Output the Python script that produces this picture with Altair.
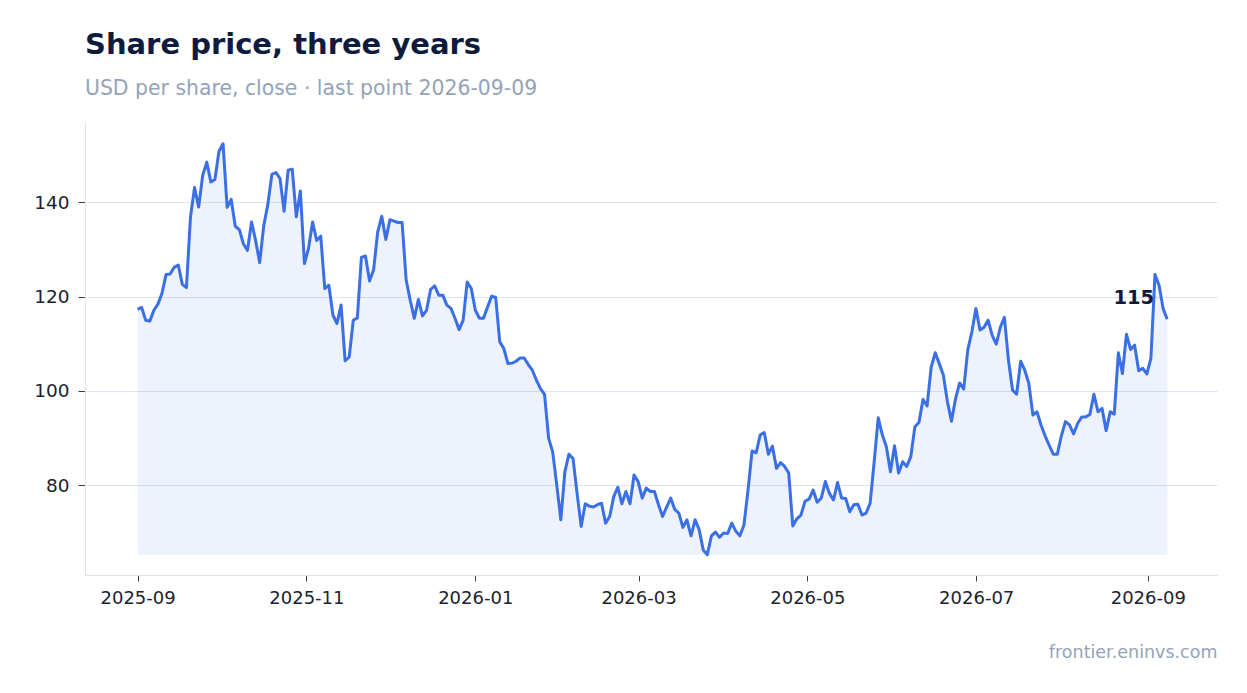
import pandas as pd
import altair as alt

# Texts
title    = "Share price, three years"
subtitle = "USD per share, close · last point 2026-09-09"
source   = "frontier.eninvs.com"

# First and last close of the series, points are evenly spaced in between
first_day = "2025-09-01"
last_day  = "2026-09-08"

# Closing prices, USD per share
close = [
    117.3, 117.7, 115.0, 114.8, 117.1, 118.4, 120.7, 124.7, 124.8, 126.2, 126.7, 122.6, 121.9, 136.9, 143.1, 139.0,
    145.7, 148.5, 144.3, 144.8, 150.8, 152.4, 138.9, 140.6, 134.9, 134.2, 131.2, 129.8, 135.8, 131.9, 127.2,
    135.0, 139.5, 145.9, 146.3, 145.0, 138.1, 146.8, 147.0, 136.9, 142.4, 127.0, 130.2, 135.8, 131.9, 132.8, 121.7,
    122.4, 116.1, 114.3, 118.2, 106.4, 107.2, 115.0, 115.5, 128.3, 128.6, 123.3, 125.7, 133.7, 137.0, 132.1, 136.3,
    136.0, 135.7, 135.7, 123.5, 119.2, 115.4, 119.4, 115.9, 117.1, 121.5, 122.3, 120.3, 120.3, 118.2, 117.5, 115.4,
    113.0, 115.0, 123.1, 121.7, 117.1, 115.4, 115.4, 117.8, 120.1, 119.8, 110.4, 109.0, 105.8, 105.9, 106.3, 107.0, 107.0,
    105.6, 104.4, 102.3, 100.5, 99.3, 90.0, 87.1, 80.1, 72.7, 82.9, 86.6, 85.7, 78.3, 71.3, 76.1, 75.6,
    75.4, 75.9, 76.2, 72.0, 73.4, 77.6, 79.6, 76.1, 78.7, 76.1, 82.2, 80.8, 77.3, 79.4, 78.7, 78.7,
    75.9, 73.4, 75.4, 77.3, 74.9, 74.1, 71.1, 72.7, 69.3, 72.7, 70.6, 66.3, 65.3, 69.3, 70.1, 69.0,
    69.9, 69.8, 72.0, 70.3, 69.3, 71.6, 79.0, 87.3, 86.9, 90.7, 91.2, 86.6, 88.3, 83.6, 84.8, 84.0, 82.6,
    71.4, 72.9, 73.7, 76.6, 77.1, 79.0, 76.4, 77.3, 80.8, 78.3, 76.9, 80.6, 77.3, 77.2, 74.4,
    75.9, 76.0, 73.7, 74.1, 76.2, 85.0, 94.3, 90.7, 88.2, 82.9, 88.4, 82.6, 85.0, 84.0, 86.1,
    92.4, 93.3, 98.2, 96.8, 105.0, 108.1, 105.8, 103.4, 97.7, 93.6, 98.4, 101.7, 100.4, 108.7, 112.5, 117.5,
    112.9, 113.5, 115.0, 111.8, 109.9, 113.5, 115.6, 106.5, 100.2, 99.3, 106.3, 104.4, 101.6, 94.9, 95.6,
    92.8, 90.5, 88.5, 86.6, 86.6, 90.5, 93.5, 92.8, 90.9, 93.1, 94.5, 94.5, 95.0, 99.3, 95.6, 96.3,
    91.6, 95.6, 95.1, 108.1, 103.7, 112.0, 108.8, 109.7, 104.3, 104.8, 103.6, 106.9, 124.7, 122.4, 117.5, 115.2,
]

# Axis ranges
y_domain   = [61, 157]
y_ticks    = [80, 100, 120, 140]
x_domain   = [alt.DateTime(year=2025, month=8, date=13), alt.DateTime(year=2026, month=9, date=26)]

blue  = "#3b6fe6"
ink   = "#0f1b3d"
muted = "#94a3b8"
font  = "DejaVu Sans"

df        = pd.DataFrame({"date": pd.date_range(first_day, last_day, periods=len(close)), "close": close})
floor     = min(close)
last_row  = df.tail(1)

x = alt.X("date:T",
          scale=alt.Scale(domain=x_domain),
          axis=alt.Axis(title=source, format="%Y-%m", tickCount={"interval": "month", "step": 2}, grid=False,
                        domainColor="#dfe4ec", tickColor="#3a3f4b", tickSize=6, labelPadding=8,
                        labelFontSize=18, labelColor="#1c2230",
                        titleAnchor="end", titleAlign="right", titleColor=muted, titleFontSize=17.5,
                        titleFontWeight="normal", titlePadding=36))
y = alt.Y("close:Q",
          scale=alt.Scale(domain=y_domain, nice=False, zero=False),
          axis=alt.Axis(title="", values=y_ticks, gridColor="#dfe5ee", domainColor="#dfe4ec",
                        tickColor="#3a3f4b", tickSize=7, labelPadding=9, labelFontSize=18.5, labelColor="#1c2230"))

area  = alt.Chart(df).mark_area(color=blue, opacity=0.09).encode(x=x, y=y, y2=alt.datum(floor))
line  = alt.Chart(df).mark_line(color=blue, strokeWidth=3, strokeJoin="round").encode(x=x, y=y)
label = alt.Chart(last_row).mark_text(align="right", baseline="middle", dx=-13, dy=-21, fontSize=19.5,
                                      fontWeight="bold", color=ink, font=font).encode(
    x=x, y=y, text=alt.Text("close:Q", format=".0f"))

chart = alt.layer(area, line, label).properties(
    width=1132, height=453,
    autosize=alt.AutoSizeParams(type="none"),
    padding={"left": 77, "top": 114, "right": 22, "bottom": 110},
    title=alt.TitleParams(text=title, subtitle=subtitle, anchor="start", frame="group", font=font,
                          fontSize=29, fontWeight="bold", color=ink, subtitleFont=font, subtitleFontSize=20.4,
                          subtitleColor=muted, subtitlePadding=19, offset=23),
).configure_view(strokeWidth=0).configure_axis(labelFont=font, titleFont=font)

chart.save("out.html", embed_options={"renderer": "svg", "actions": False})
